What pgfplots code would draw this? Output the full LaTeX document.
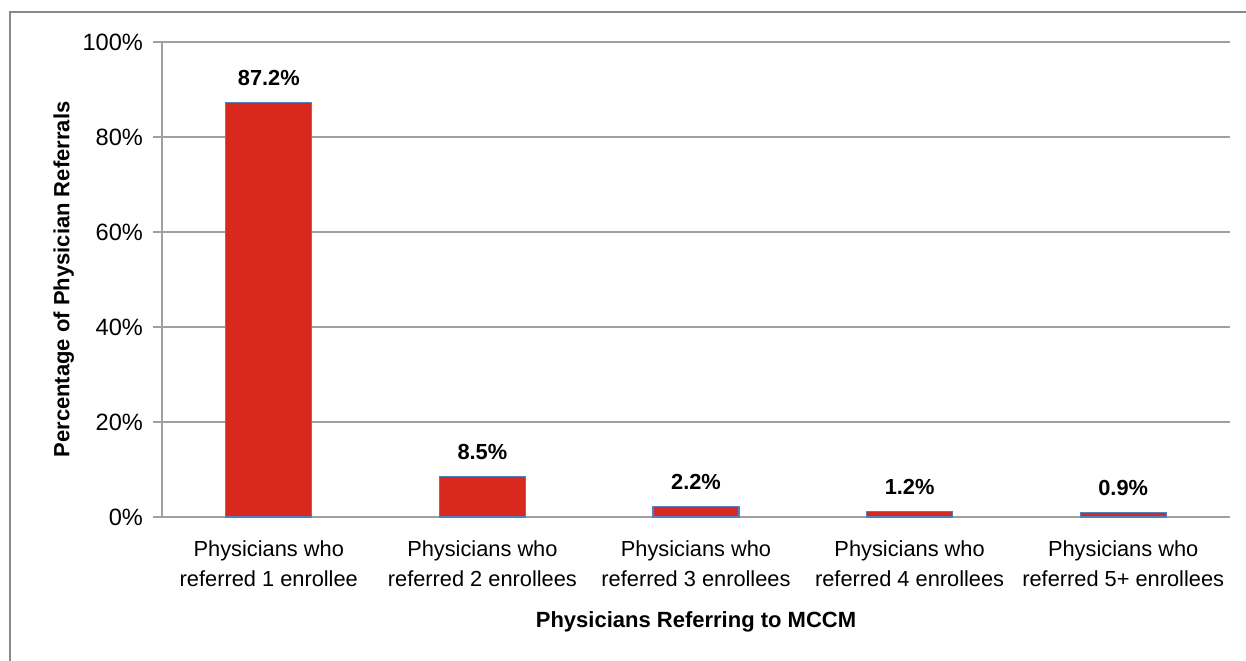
\documentclass[border=0pt]{standalone}
\usepackage{fontspec}
\setmainfont{Liberation Sans}
\usepackage{pgfplots}
\pgfplotsset{compat=1.18}
\definecolor{barred}{RGB}{217,40,30}
\definecolor{baredge}{RGB}{79,129,189}
\definecolor{gridgray}{RGB}{160,160,160}
\definecolor{framegray}{RGB}{137,137,137}
\begin{document}
\begin{tikzpicture}
\begin{axis}[
  at={(81pt,71.5pt)}, anchor=south west,
  scale only axis, width=534pt, height=237.5pt,
  xmin=-0.5, xmax=4.5, ymin=0, ymax=100,
  axis x line*=bottom, axis y line*=left,
  axis line style={gridgray, line width=0.75pt},
  ytick={0,20,40,60,80,100},
  yticklabels={0\%,20\%,40\%,60\%,80\%,100\%},
  ymajorgrids, major grid style={gridgray, line width=0.75pt},
  y tick label style={font=\fontsize{11.8}{14}\selectfont, xshift=-1.5pt},
  ytick style={gridgray, line width=0.75pt},
  tick align=outside, major tick length=4.5pt,
  xtick={0,1,2,3,4},
  xticklabels={Physicians who\\referred 1 enrollee, Physicians who\\referred 2 enrollees, Physicians who\\referred 3 enrollees, Physicians who\\referred 4 enrollees, Physicians who\\referred 5+ enrollees},
  x tick label style={font=\fontsize{10.9}{15}\selectfont, align=center, yshift=-4pt},
  xtick style={draw=none},
  extra x ticks={-0.5,0.5,1.5,2.5,3.5,4.5},
  extra x tick labels={},
  extra x tick style={tick style={draw=gridgray, line width=0.75pt}, major tick length=4pt, grid=none},
  ylabel={Percentage of Physician Referrals},
  xlabel={Physicians Referring to MCCM},
  every axis y label/.style={at={(axis description cs:-0.092,0.5)}, rotate=90, anchor=center, font=\fontsize{11}{13}\bfseries},
  every axis x label/.style={at={(axis description cs:0.5,-0.2316)}, anchor=base, font=\fontsize{11}{13}\bfseries},
  ybar, bar width=43pt,
  point meta=explicit symbolic,
  nodes near coords,
  every node near coord/.append style={font=\fontsize{10.9}{13}\bfseries, anchor=base, yshift=8.5pt},
  clip=false,
]
\addplot[fill=barred, draw=baredge, line width=0.6pt] coordinates {
  (0,87.2) [87.2\%]
  (1,8.5) [8.5\%]
  (2,2.2) [2.2\%]
  (3,1.2) [1.2\%]
  (4,0.9) [0.9\%]
};
\end{axis}
\draw[framegray, line width=1pt] (5pt,-3pt) -- (5pt,324pt) -- (626pt,324pt);
\pgfresetboundingbox
\useasboundingbox (0,0) rectangle (623pt,330pt);
\end{tikzpicture}
\end{document}
